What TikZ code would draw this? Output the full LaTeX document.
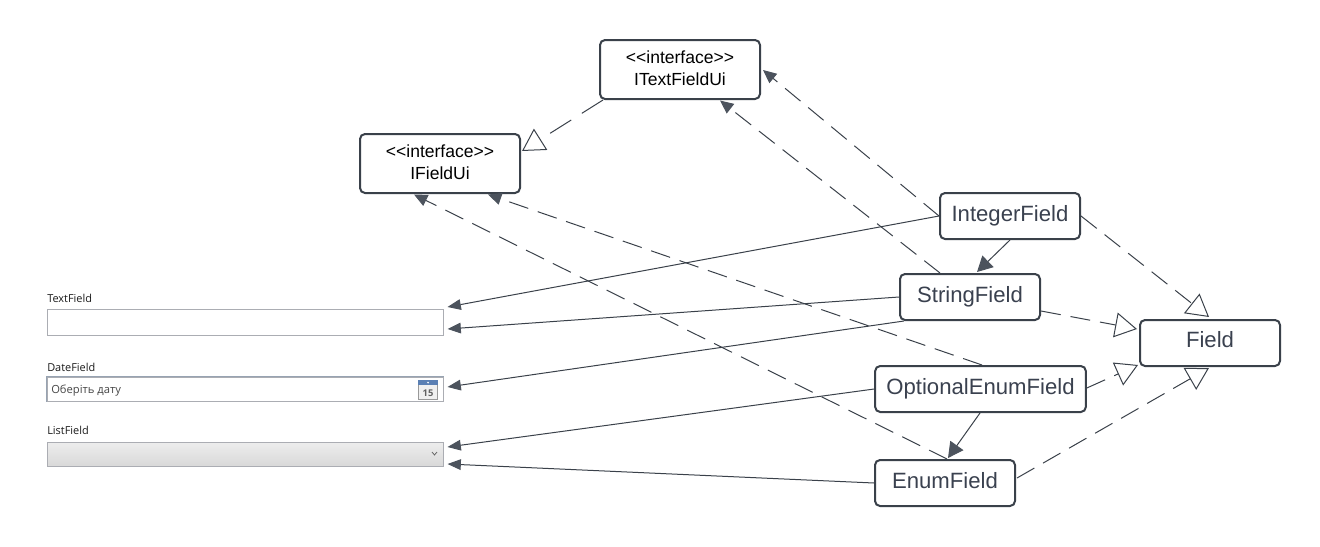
\documentclass[tikz,border=0pt]{standalone}
\usepackage{fontspec}
\setmainfont{Liberation Sans}
\newfontfamily\uifont{Open Sans}
\usetikzlibrary{arrows.meta,calc}
\definecolor{umlline}{HTML}{3A414A}
\definecolor{umlhead}{HTML}{4C535D}
\definecolor{umltext}{HTML}{3A414F}
\definecolor{fieldedge}{HTML}{ABADB3}
\definecolor{dateedge}{HTML}{97A3B2}
\definecolor{calblue}{HTML}{5B80B4}
\definecolor{lbl}{HTML}{1A1A1A}
\newcommand{\lowerfix}{\rule[-1.5pt]{0pt}{1.5pt}}
\tikzset{
  x=0.75pt,y=-0.75pt,
  umlbox/.style={draw=umlline,line width=1.5pt,rounded corners=3.75pt,fill=white,inner sep=0pt,align=center,text=umltext,font=\fontsize{16.6pt}{18pt}\selectfont,minimum height=34.5pt,text height=13.4pt,text depth=5.4pt},
  ifacebox/.style={draw=umlline,line width=1.5pt,rounded corners=3.75pt,fill=white,inner sep=0pt,align=center,text=black,font=\fontsize{13.15pt}{16.5pt}\selectfont,minimum width=120pt,minimum height=44.25pt},
  realize/.style={draw=umlline,line width=0.75pt,dash pattern=on 15pt off 7.5pt,-{Triangle[open,length=16.5pt,width=18.75pt,color=umlline,line width=0.75pt]}},
  longrealize/.style={realize,dash pattern=on 18.75pt off 9.4pt},
  usedash/.style={draw=umlline,line width=0.75pt,dash pattern=on 15pt off 7.5pt,-{Triangle[length=10pt,width=9pt,color=umlhead]}},
  assoc/.style={draw=umlline,line width=0.75pt,-{Triangle[length=10pt,width=8pt,color=umlhead]}},
  bighead/.style={draw=umlline,line width=0.75pt,-{Triangle[length=11.5pt,width=12pt,color=umlhead]}},
  fieldlabel/.style={anchor=west,inner sep=0pt,text=lbl,font=\uifont\fontsize{8.2pt}{10pt}\selectfont},
  fieldbox/.style={draw=fieldedge,line width=0.75pt,inner sep=0pt,minimum width=297pt}
}
\begin{document}
\begin{tikzpicture}
\useasboundingbox (0,0) rectangle (1320,546);
% form fields
\node[fieldlabel] (tfl) at (47,298) {TextField};
\node[fieldbox,fill=white,minimum height=20pt] (tf) at (245,322.5) {};
\node[fieldlabel] (dfl) at (47,367) {DateField};
\node[fieldbox,fill=white,minimum height=18pt] (df) at (245,389) {};
\draw[dateedge,line width=0.9pt] (df.south west) -- (df.north west) -- (df.north east);
\node[anchor=west,inner sep=0pt,text=black!72,font=\uifont\fontsize{8.4pt}{10pt}\selectfont] (dft) at (51,390.5) {Оберіть дату};
\node[fieldlabel] (lfl) at (47,430) {ListField};
\node[fieldbox,minimum height=18pt,top color=white!93!black,bottom color=white!85!black] (lf) at (245,454) {};
% calendar icon
\node[draw=black!40,fill=black!6,inner sep=0pt,minimum width=14.5pt,minimum height=14pt] (cal) at (428,389.5) {};
\fill[calblue] (cal.north west) rectangle ([yshift=-4pt]cal.north east);
\fill[white] ([yshift=-2pt]cal.north) circle[radius=0.7pt];
\node[inner sep=0pt,text=black!62,font=\uifont\bfseries\fontsize{7pt}{8pt}\selectfont] (caln) at (428,393) {15};
% chevron
\coordinate (cha) at (432,452);
\coordinate (chb) at (434.5,455);
\coordinate (chc) at (437,452);
\draw[black!60,line width=0.6pt] (cha) -- (chb) -- (chc);
% UML boxes
\node[ifacebox] (itf) at (680,69.5) {{<}{<}interface{>}{>}\\ITextFieldUi\lowerfix};
\node[ifacebox] (ifu) at (440,163.5) {{<}{<}interface{>}{>}\\IFieldUi\lowerfix};
\node[umlbox,minimum width=105pt] (int) at (1010,216) {IntegerField};
\node[umlbox,minimum width=105pt] (str) at (970,297) {StringField};
\node[umlbox,minimum width=158pt] (opt) at (980.5,389) {OptionalEnumField};
\node[umlbox,minimum width=105pt] (enu) at (945,483) {EnumField};
\node[umlbox,minimum width=105pt,text height=12.4pt,text depth=6pt] (fld) at (1210,343) {Field};
% inheritance
\draw[longrealize] ([shift={(4,0)}]itf.south west) -- ([shift={(1,-12.5)}]ifu.east);
\draw[realize] (int.east) -- ([shift={(-1,-2)}]fld.north);
\draw[realize] ([shift={(0,-10)}]str.south east) -- ([shift={(-2,-14)}]fld.west);
\draw[realize] ([shift={(0,-1)}]opt.east) -- ([shift={(-1,-2)}]fld.south west);
\draw[realize] ([shift={(1,-5)}]enu.east) -- ([shift={(-1,1)}]fld.south);
% dependency on interfaces
\draw[usedash] (int.west) -- ([shift={(2,0.5)}]itf.east);
\draw[usedash] ([shift={(-30,0)}]str.north) -- ([shift={(40,0.5)}]itf.south);
\draw[usedash] ([shift={(1.5,0)}]opt.north) -- ([shift={(48,0.5)}]ifu.south);
\draw[usedash] ([shift={(2,0)}]enu.north) -- ([shift={(-26,0.5)}]ifu.south);
% associations
\draw[assoc] (int.west) -- ([shift={(4,-15.5)}]tf.east);
\draw[assoc] (str.west) -- ([shift={(4,6.5)}]tf.east);
\draw[assoc] ([shift={(5,0)}]str.south west) -- ([shift={(4,-2)}]df.east);
\draw[assoc] (opt.west) -- ([shift={(4,-7)}]lf.east);
\draw[assoc] (enu.west) -- ([shift={(4,10)}]lf.east);
\draw[bighead] (int.south) -- ([shift={(7,-1)}]str.north);
\draw[bighead] ([shift={(-0.5,0)}]opt.south) -- ([shift={(3,-1)}]enu.north);
\end{tikzpicture}
\end{document}
